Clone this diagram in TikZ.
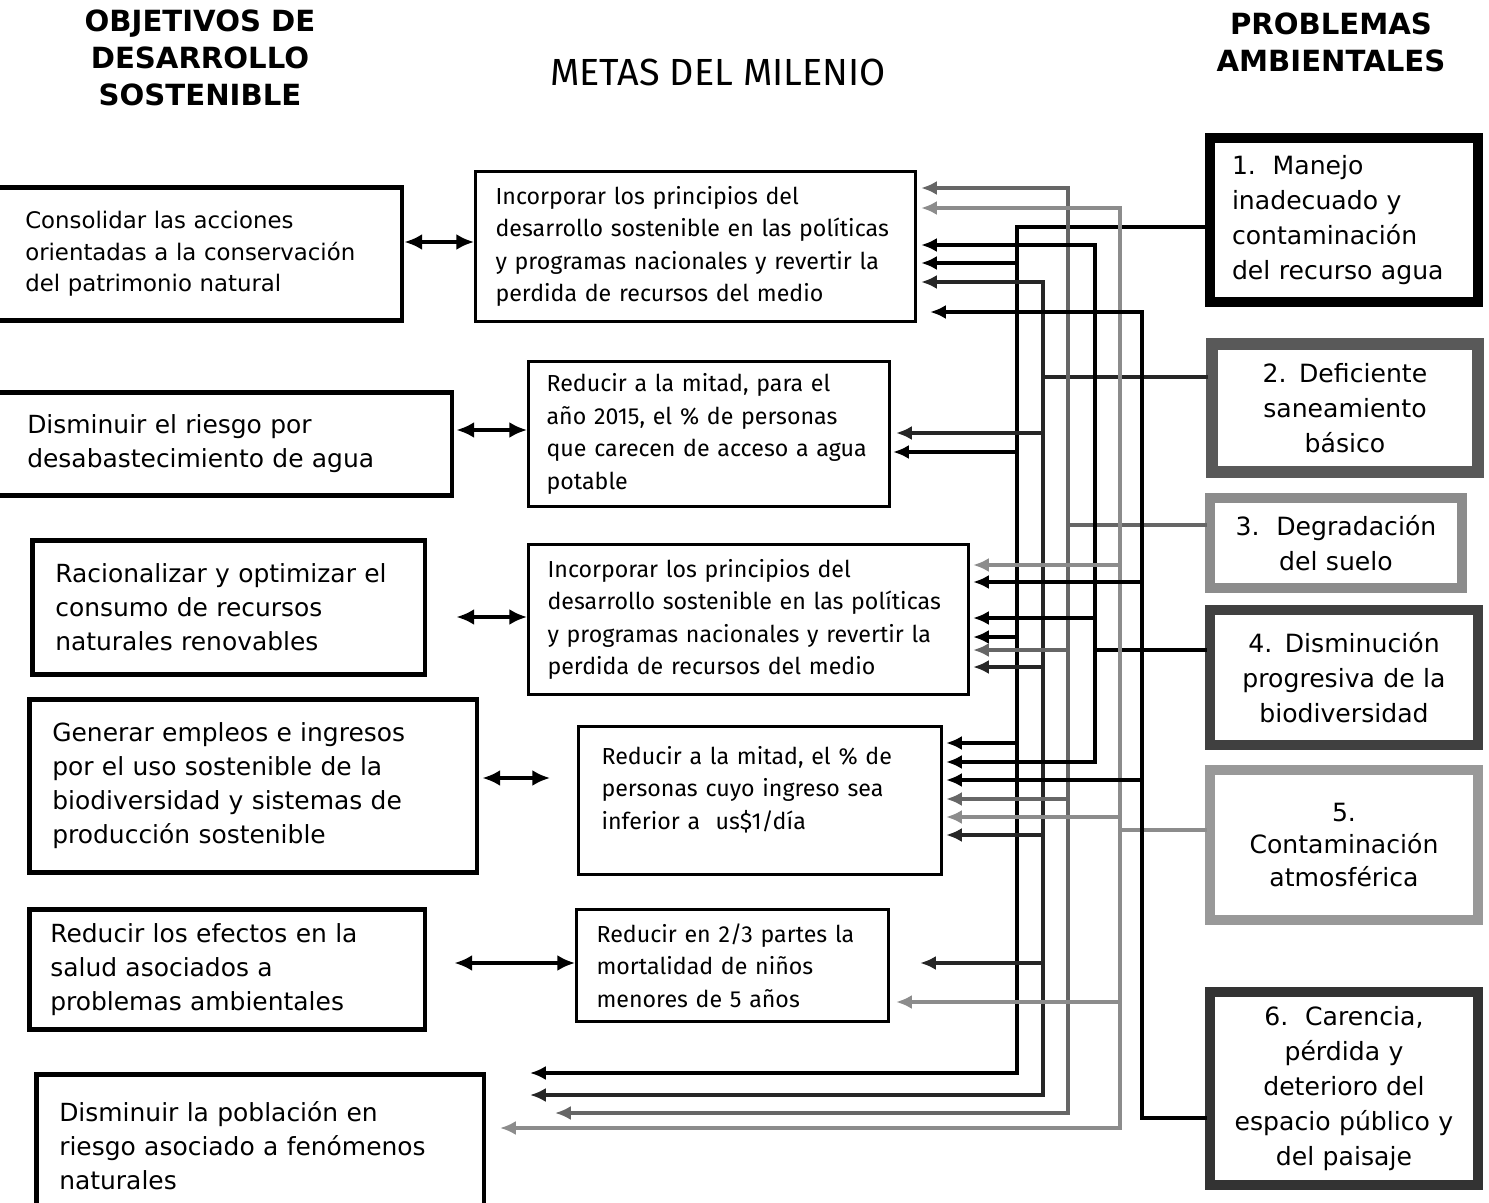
\documentclass[tikz,border=0pt]{standalone}
\usepackage{fontspec}
\setmainfont{DejaVu Sans}
\newfontfamily\metafont{Fira Sans}
\usetikzlibrary{arrows.meta,calc}

\tikzset{
  objbox/.style={draw, line width=2.6pt, align=left, anchor=north west, inner ysep=0pt,
    font=\fontsize{14.2}{19.3}\selectfont},
  metabox/.style={draw, line width=1.8pt, align=left, anchor=north west, inner ysep=0pt,
    font=\metafont\fontsize{13.2}{18.5}\selectfont},
  probbox/.style={draw, line width=5.7pt, align=center, anchor=north west, inner ysep=0pt,
    font=\fontsize{14.3}{19.85}\selectfont},
  heading/.style={align=center, font=\bfseries\fontsize{16.6}{21}\selectfont},
  link/.style={line width=1.8pt, {Latex[length=10pt,width=9pt]}-{Latex[length=10pt,width=9pt]}},
  tip/.style={-{Latex[length=9pt,width=8pt]}},
  bus1/.style={draw=black, line width=2.8pt, line cap=rect},
  bus2/.style={draw=black!85, line width=1.9pt, line cap=rect},
  bus3/.style={draw=black!60, line width=1.8pt, line cap=rect},
  bus4/.style={draw=black, line width=1.9pt, line cap=rect},
  bus5/.style={draw=black!45, line width=1.8pt, line cap=rect},
  bus6/.style={draw=black, line width=2.1pt, line cap=rect},
}

\begin{document}
\begin{tikzpicture}[x=0.02cm,y=-0.02cm]
  \useasboundingbox (0,0) rectangle (1489,1203);

  % column headings
  \node[heading] (objt) at (200,58) {OBJETIVOS DE\\DESARROLLO\\SOSTENIBLE};
  \node[font=\metafont\fontsize{21.5}{24}\selectfont] (metat) at (718,72) {METAS DEL MILENIO};
  \node[heading] (probt) at (1331,42) {PROBLEMAS\\AMBIENTALES};

  % objetivos (left column)
  \node[objbox, font=\fontsize{13}{18.1}\selectfont, text width=6.88cm, inner xsep=0.66cm, minimum height=2.66cm] (o1) at (-10,185)
    {Consolidar las acciones\\orientadas a la conservación\\del patrimonio natural};
  \node[objbox, text width=7.8cm, inner xsep=0.7cm, minimum height=2.06cm] (o2) at (-10,390)
    {Disminuir el riesgo por\\desabastecimiento de agua};
  \node[objbox, text width=6.94cm, inner xsep=0.46cm, minimum height=2.68cm] (o3) at (30,538)
    {Racionalizar y optimizar el\\consumo de recursos\\naturales renovables};
  \node[objbox, text width=8.04cm, inner xsep=0.46cm, minimum height=3.46cm] (o4) at (27,697)
    {Generar empleos e ingresos\\por el uso sostenible de la\\biodiversidad y sistemas de\\producción sostenible};
  \node[objbox, text width=7.08cm, inner xsep=0.42cm, minimum height=2.4cm] (o5) at (27,907)
    {Reducir los efectos en la\\salud asociados a\\problemas ambientales};
  \node[objbox, text width=8.04cm, inner xsep=0.46cm, minimum height=2.86cm] (o6) at (34,1072)
    {Disminuir la población en\\riesgo asociado a fenómenos\\naturales};

  % metas (middle column)
  \node[metabox, text width=8cm, inner xsep=0.4cm, minimum height=3cm] (m1) at (474,170)
    {Incorporar los principios del\\desarrollo sostenible en las políticas\\y programas nacionales y revertir la\\perdida de recursos del medio};
  \node[metabox, text width=6.5cm, inner xsep=0.36cm, minimum height=2.9cm] (m2) at (527,360)
    {Reducir a la mitad, para el\\año 2015, el \% de personas\\que carecen de acceso a agua\\potable};
  \node[metabox, text width=8.04cm, inner xsep=0.38cm, minimum height=3cm] (m3) at (527,543)
    {Incorporar los principios del\\desarrollo sostenible en las políticas\\y programas nacionales y revertir la\\perdida de recursos del medio};
  \node[metabox, text width=6.34cm, inner xsep=0.46cm, minimum height=2.96cm] (m4) at (577,725)
    {Reducir a la mitad, el \% de\\personas cuyo ingreso sea\\inferior a\ \ us\$1/día\par\kern0.44cm};
  \node[metabox, text width=5.44cm, inner xsep=0.4cm, minimum height=2.24cm] (m5) at (575,908)
    {Reducir en 2/3 partes la\\mortalidad de niños\\menores de 5 años};
  \coordinate (m6) at (500,1100); % no meta box for the last objective

  % problemas (right column)
  \node[probbox, align=left, text width=4.48cm, inner xsep=0.44cm, minimum height=3.28cm] (p1) at (1205,133)
    {1.\ \ Manejo\\inadecuado y\\contaminación\\del recurso agua};
  \node[probbox, draw=black!65, line width=6.8pt, text width=4.92cm, inner xsep=0.2cm, minimum height=2.56cm] (p2) at (1206,338)
    {2. Deficiente\\saneamiento\\básico};
  \node[probbox, draw=black!45, text width=4.64cm, inner xsep=0.2cm, minimum height=1.8cm] (p3) at (1205,493)
    {3.\ \ Degradación\\del suelo};
  \node[probbox, draw=black!75, text width=4.96cm, inner xsep=0.2cm, minimum height=2.7cm] (p4) at (1205,605)
    {4. Disminución\\progresiva de la\\biodiversidad};
  \node[probbox, draw=black!40, font=\fontsize{14.3}{18.7}\selectfont, text width=4.96cm, inner xsep=0.2cm, minimum height=3cm] (p5) at (1205,765)
    {5.\\Contaminación\\atmosférica};
  \node[probbox, draw=black!80, text width=4.96cm, inner xsep=0.2cm, minimum height=3.86cm] (p6) at (1205,987)
    {6.\ \ Carencia,\\pérdida y\\deterioro del\\espacio público y\\del paisaje};

  % objetivo <-> meta
  \foreach \i/\a/\b/\y in {1/0/0/242, 2/2/0/430, 3/29/0/617, 4/3/27/778, 5/27/0/963}
    \draw[link] ($(o\i.east |- 0,\y)+(\a,0)$) -- ($(m\i.west |- 0,\y)-(\b,0)$);

  % one vertical bus per problem (format: problem/x/feed y/top y/bottom y)
  \def\buses{1/1017/227/227/1073, 2/1043/377/282/1095, 3/1068/525/188/1113,
             4/1095/650/245/762, 5/1120/830/208/1128, 6/1142/1118/312/1118}
  \foreach \n/\bx/\yf/\ys/\ye in \buses {
    \coordinate (b\n) at (\bx,\ys);
    \draw[bus\n] (p\n.west |- 0,\yf) -- (b\n |- 0,\yf);
    \draw[bus\n] (b\n) -- (b\n |- 0,\ye);
  }

  % branches from the buses to the metas (format: target/gap/y/problem)
  \def\branches{m1.east/4/188/3, m1.east/4/208/5, m1.east/4/245/4, m1.east/4/263/1,
    m1.east/4/282/2, m1.east/13/312/6, m2.east/5/433/2, m2.east/2/452/1,
    m3.east/3/565/5, m3.east/3/582/6, m3.east/3/618/4, m3.east/3/637/1,
    m3.east/3/650/3, m3.east/3/667/2, m4.east/3/743/1, m4.east/3/762/4,
    m4.east/3/780/6, m4.east/3/799/3, m4.east/3/817/5, m4.east/3/835/2,
    m5.east/30/963/2, m5.east/6/1002/5,
    m6/30/1073/1, m6/30/1095/2, m6/55/1113/3, m6/0/1128/5}
  \foreach \goal/\gap/\y/\n in \branches
    \draw[bus\n, tip, line cap=butt] (b\n |- 0,\y) -- ($(\goal |- 0,\y)+(\gap,0)$);
\end{tikzpicture}
\end{document}
